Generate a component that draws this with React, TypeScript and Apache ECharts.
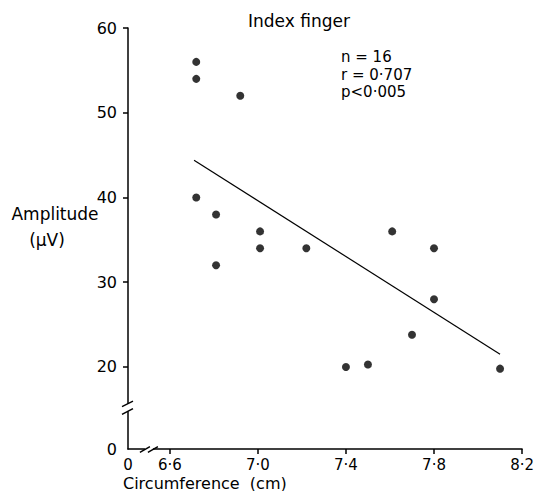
import React, { useEffect, useRef } from 'react';
import * as echarts from 'echarts';

const circumference = [6.72, 6.72, 6.92, 6.72, 6.81, 7.01, 7.01, 6.81, 7.22, 7.61, 7.8, 7.8, 7.7, 7.4, 7.5, 8.1];
const amplitude = [56, 54, 52, 40, 38, 36, 34, 32, 34, 36, 34, 28, 23.8, 20, 20.3, 19.8];
const fitX = [6.71, 8.1];
const fitY = [44.4, 21.5];
const xTicks = [6.6, 7.0, 7.4, 7.8, 8.2];
const yTicks = [20, 30, 40, 50, 60];
const xMin = 6.41;
const xMax = 8.2;
const yMin = 10.32;
const yMax = 60;
const xBreak = 6.505;
const yBreak = 15.2;
const statsLines = ['n = 16', 'r = 0·707', 'p<0·005'];

const FONT = 'DejaVu Sans';
const INK = '#000';

export default function App() {
  const ref = useRef<HTMLDivElement>(null);
  useEffect(() => {
    document.body.style.margin = '0';
    if (!ref.current) return;
    const chart = echarts.init(ref.current, undefined, { renderer: 'svg' });
    const points = circumference.map((x, i) => [x, amplitude[i]]);
    const fit = fitX.map((x, i) => [x, fitY[i]]);
    chart.setOption({
      animation: false,
      grid: { left: 128, top: 28, right: 11, bottom: 42, containLabel: false },
      xAxis: {
        type: 'value',
        min: xMin,
        max: xMax,
        splitLine: { show: false },
        axisLine: { show: true, lineStyle: { color: INK, width: 1.5 } },
        axisTick: { show: true, length: 5, lineStyle: { color: INK, width: 1.5 }, customValues: xTicks },
        axisLabel: {
          customValues: [xMin, ...xTicks],
          margin: 8,
          color: INK,
          fontFamily: FONT,
          fontSize: 15,
          formatter: (v: number) => (v < 6.5 ? '0' : v.toFixed(1).replace('.', '·')),
        },
      },
      yAxis: {
        type: 'value',
        min: yMin,
        max: yMax,
        splitLine: { show: false },
        axisLine: { show: true, lineStyle: { color: INK, width: 1.5 } },
        axisTick: { show: true, length: 5, lineStyle: { color: INK, width: 1.5 }, customValues: yTicks },
        axisLabel: {
          customValues: [yMin, ...yTicks],
          margin: 11,
          color: INK,
          fontFamily: FONT,
          fontSize: 16,
          formatter: (v: number) => (v < 15 ? '0' : String(Math.round(v))),
        },
      },
      series: [
        {
          type: 'scatter',
          data: points,
          symbol: 'circle',
          symbolSize: 8,
          itemStyle: { color: INK },
        },
        {
          type: 'line',
          data: fit,
          showSymbol: false,
          symbol: 'none',
          lineStyle: { color: INK, width: 1.2 },
        },
      ],
    });
    const [ax0] = chart.convertToPixel({ gridIndex: 0 }, [xMin, yMin]) as number[];
    const yb = (chart.convertToPixel({ gridIndex: 0 }, [xMin, yBreak]) as number[])[1];
    const [xb, ay0] = chart.convertToPixel({ gridIndex: 0 }, [xBreak, yMin]) as number[];
    const ls = { stroke: INK, lineWidth: 1.5 };
    const statTexts = statsLines.map((t, i) => ({
      type: 'text', x: 341, y: 57 + i * 17.5,
      style: { text: t, fill: INK, font: `15px "${FONT}"`, align: 'left', verticalAlign: 'middle' },
    }));
    chart.setOption({
      graphic: [
        { type: 'rect', shape: { x: ax0 - 3, y: yb - 3.8, width: 6, height: 7.5 }, style: { fill: '#fff' }, z: 100 },
        { type: 'line', shape: { x1: ax0 - 6, y1: yb - 1, x2: ax0 + 5, y2: yb - 6.6 }, style: ls, z: 101 },
        { type: 'line', shape: { x1: ax0 - 6, y1: yb + 6.7, x2: ax0 + 5, y2: yb + 1 }, style: ls, z: 101 },
        { type: 'rect', shape: { x: xb - 4, y: ay0 - 3, width: 8, height: 6 }, style: { fill: '#fff' }, z: 100 },
        { type: 'line', shape: { x1: xb - 9, y1: ay0 + 3.3, x2: xb + 1, y2: ay0 - 2.3 }, style: ls, z: 101 },
        { type: 'line', shape: { x1: xb - 1, y1: ay0 + 3.3, x2: xb + 9, y2: ay0 - 2.3 }, style: ls, z: 101 },
        {
          type: 'text', x: 299, y: 21,
          style: { text: 'Index finger', fill: INK, font: `17px "${FONT}"`, align: 'center', verticalAlign: 'middle' },
        },
        ...statTexts,
        {
          type: 'text', x: 55, y: 214,
          style: { text: 'Amplitude', fill: INK, font: `17px "${FONT}"`, align: 'center', verticalAlign: 'middle' },
        },
        {
          type: 'text', x: 47, y: 240,
          style: { text: '(µV)', fill: INK, font: `17px "${FONT}"`, align: 'center', verticalAlign: 'middle' },
        },
        {
          type: 'text', x: 123, y: 483,
          style: { text: 'Circumference  (cm)', fill: INK, font: `16px "${FONT}"`, align: 'left', verticalAlign: 'middle' },
        },
      ],
    });
    return () => chart.dispose();
  }, []);
  return <div ref={ref} style={{ width: 537, height: 491 }} />;
}
